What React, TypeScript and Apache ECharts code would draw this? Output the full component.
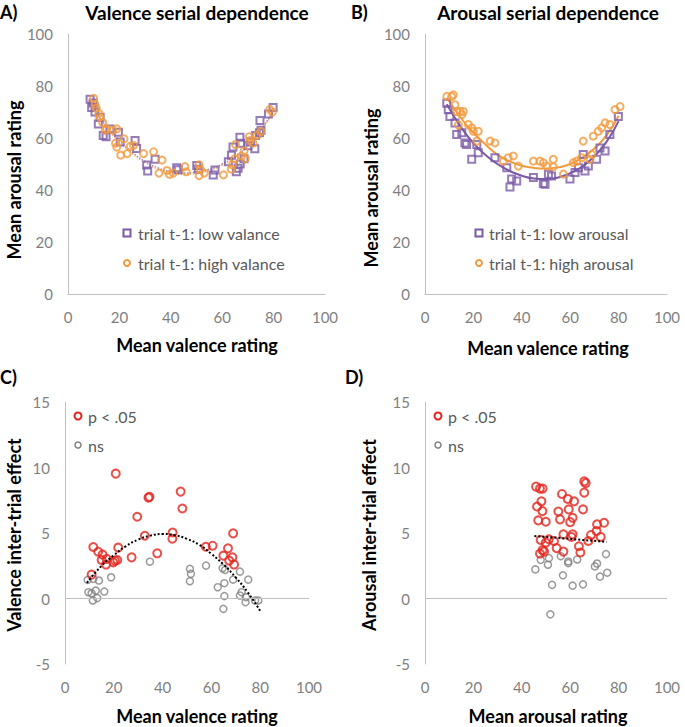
import React, { useEffect, useRef } from "react";
import * as echarts from "echarts";

// ---------- Panel A: Valence serial dependence ----------
const aLowX = [8.6, 9.2, 9.8, 10.5, 11.8, 12.5, 13.7, 14.8, 16.3, 19.6, 20.3, 26.1, 26.7, 30.6, 31, 33.9, 42.3, 42.9, 50.1, 50.7, 56.5, 57.2, 62.4, 63.6, 64.2, 65.5, 66.2, 67, 66.9, 67.2, 68.5, 70, 71, 72.7, 73, 74.5, 74.7, 75.1, 78, 79.8];
const aLowY = [74.9, 71.7, 73.5, 70, 65.4, 68, 61, 60.5, 63.5, 62.2, 58.5, 59, 56, 49.6, 47.3, 51.8, 48.6, 47.8, 49.4, 48, 45.8, 47.7, 50.9, 53.4, 56.5, 47, 48.4, 50, 60.3, 58, 52, 57, 58.5, 55.9, 61, 62, 66.7, 63, 69.2, 71.7];
const aHighX = [10, 10.5, 11, 12, 12.5, 13.5, 14.5, 15, 17.5, 19, 18.5, 19, 21.8, 20.5, 23, 24.2, 25.5, 29.4, 33.3, 36.6, 35.4, 38.5, 39.5, 41, 45.5, 46, 51, 51.5, 51, 53, 60.5, 63.5, 64, 64.8, 65.2, 67.5, 68.5, 69, 70.5, 70.8, 72, 73.5, 75, 78.5, 79.5];
const aHighY = [75.2, 73, 71.5, 69.5, 68, 66, 63, 63.5, 63, 63.5, 58, 56.5, 59.7, 53.4, 54, 56.8, 57.2, 54, 54.7, 51.5, 46.5, 47.5, 46, 46.5, 49, 47, 49.7, 48, 45.5, 46.5, 45.8, 48, 49.7, 52, 57.5, 53, 55, 52, 60.5, 59, 58, 61, 62.5, 71, 70];
const aFitX = [8, 15, 20, 25, 30, 35, 40, 45, 50, 55, 60, 65, 70, 75, 80];
const aLowFitY = [73.5, 64.5, 59, 54.5, 51, 48.5, 47, 46.5, 47, 48, 50, 53, 57, 63, 70.5];
const aHighFitY = [74.5, 64, 58.5, 54, 50.5, 48, 46.5, 46, 46.3, 47.5, 49.5, 52.5, 57, 62.5, 70.5];

// ---------- Panel B: Arousal serial dependence ----------
const bLowX = [9, 9.6, 10.3, 12.4, 13.1, 15.2, 16.5, 17.2, 19.3, 21.4, 22, 28.9, 33.8, 35.1, 35.8, 37.9, 44.8, 48.9, 49.6, 51, 52.3, 59.9, 62, 63.4, 66.1, 65.4, 67.5, 70.9, 72.3, 74.4, 76.4, 79.9];
const bLowY = [73.4, 70.9, 68.3, 65.8, 61.3, 62, 58.1, 57.5, 51.8, 57.5, 54.3, 52.4, 48.6, 41.2, 44.2, 43.5, 44.8, 42.5, 42.2, 46.1, 45.4, 44.2, 46.7, 48.6, 47.3, 53.7, 49.2, 51.8, 56.2, 55, 61.3, 68.3];
const bHighX = [9, 11, 11.7, 12.4, 13.1, 14.5, 15.2, 15.8, 13.8, 17.9, 19.3, 20, 22, 21.4, 26.9, 28.9, 32.4, 34.4, 36.5, 38.6, 44.8, 47.5, 48.9, 50.3, 53, 53, 57.2, 61.3, 62.7, 64.7, 65.4, 68.2, 68.9, 69.5, 71.6, 73, 74.4, 76.4, 78.5, 80.6];
const bHighY = [76, 76, 76.6, 72.8, 70.2, 70.2, 69, 70.2, 65, 65.2, 63.9, 62.6, 62.6, 58.8, 58.8, 58.1, 51.1, 52.4, 53.1, 49.2, 51.1, 51.1, 50.5, 49.2, 51.8, 48.9, 46.1, 50.5, 51.1, 52.4, 58.8, 51.8, 53.7, 60.7, 62.6, 63.9, 65.8, 65.2, 70.9, 72.1];
const bFitX = [9, 15, 20, 25, 30, 35, 40, 45, 50, 55, 60, 65, 70, 75, 80];
const bLowFitY = [73, 64, 58, 53.5, 50, 47.3, 45.5, 44.4, 44.2, 44.8, 46.5, 49, 53, 58.5, 66.5];
const bHighFitY = [75.5, 67.5, 62, 57.5, 53.5, 51, 49.3, 48.5, 48.3, 48.7, 50, 52.5, 56, 61, 68.5];

// ---------- Panel C: Valence inter-trial effect ----------
const cSigX = [20.8, 47.4, 34.6, 34.2, 48.1, 29.6, 68.9, 44.1, 32.7, 44, 11.6, 13.6, 15.4, 21.8, 15, 16.8, 17.1, 19.8, 20.5, 21.4, 27.3, 37.8, 10.9, 57.7, 60.5, 66.8, 64.9, 68.6, 67.3, 69.3];
const cSigY = [9.53, 8.16, 7.76, 7.7, 6.87, 6.24, 4.97, 5.04, 4.79, 4.56, 3.93, 3.57, 3.35, 3.88, 2.94, 2.59, 3.02, 2.76, 2.89, 2.94, 3.14, 3.45, 1.82, 3.95, 4.03, 3.83, 3.27, 3.14, 2.89, 2.59];
const cNsX = [9.3, 11.6, 13.9, 9.6, 10.9, 12.6, 16.1, 13.2, 11.4, 18.9, 34.8, 51.2, 51.6, 51.2, 57.8, 64.6, 65.6, 62.6, 65.3, 65.3, 64.9, 68.9, 71.7, 75.1, 72.4, 71.7, 74.2, 74, 77.9, 79.2];
const cNsY = [1.42, 1.5, 1.37, 0.48, 0.4, 0.61, 0.53, 0.03, -0.15, 1.62, 2.81, 2.26, 1.88, 1.32, 2.51, 2.31, 2.18, 0.86, 1.17, 0.18, -0.79, 1.44, 2.05, 1.44, 0.48, 0.23, 0.1, -0.28, -0.15, -0.15];
const cFitX = [9, 15, 20, 25, 30, 35, 40, 45, 50, 55, 60, 65, 70, 75, 80];
const cFitY = [1.2, 2.5, 3.3, 4.0, 4.5, 4.8, 4.92, 4.83, 4.55, 4.1, 3.4, 2.6, 1.6, 0.45, -0.95];

// ---------- Panel D: Arousal inter-trial effect ----------
const dSigX = [45.9, 47.5, 48.6, 65.8, 66.4, 65.8, 56.6, 59, 61.6, 48.1, 46.3, 48.5, 55.1, 59.4, 65.3, 46.8, 49.9, 55.8, 61, 60, 71.1, 74, 70.9, 57.2, 61, 60.5, 68.6, 72.6, 47.8, 51.2, 49.9, 53.3, 67.5, 54.4, 63.6, 48.6, 49.2, 57.2, 47.5, 64.2];
const dSigY = [8.54, 8.39, 8.39, 8.94, 8.81, 8.08, 7.98, 7.6, 7.42, 7.42, 7.02, 6.67, 6.64, 6.8, 6.8, 5.96, 5.86, 6.04, 6.16, 5.83, 5.66, 5.78, 5.15, 4.9, 4.9, 4.7, 4.85, 4.7, 4.47, 4.52, 4.27, 4.39, 4.39, 3.84, 3.99, 3.69, 3.58, 3.58, 3.43, 3.51];
const dNsX = [47.8, 51.2, 50.8, 56.1, 59.2, 59.2, 62.9, 70.2, 71.1, 74.8, 75.3, 72.3, 45.6, 57, 52.5, 61, 65.3, 51.8];
const dNsY = [2.95, 3.08, 2.58, 3.23, 2.83, 2.7, 2.98, 2.45, 2.67, 3.39, 1.97, 1.67, 2.22, 1.77, 1.04, 0.98, 1.08, -1.21];
const dFitX = [45.2, 50, 55, 60, 65, 70, 75];
const dFitY = [4.77, 4.7, 4.63, 4.55, 4.47, 4.4, 4.32];

const xTicks = { min: 0, max: 100, interval: 20 };
const ratingTicks = { min: 0, max: 100, interval: 20 };
const effectTicks = { min: -5, max: 15, interval: 5 };

const PURPLE = "#7a5aa6";
const ORANGE = "#f39a3d";
const RED = "#e3241d";
const GRAY = "#808080";
const AXIS = "#bfbfbf";
const LABEL = "#7f7f7f";
const FONT = 'Lato, "Noto Sans", sans-serif';

const zip = (xs: number[], ys: number[]) => xs.map((x, i) => [x, ys[i]]);

export default function App() {
  const ref = useRef<HTMLDivElement>(null);
  useEffect(() => {
    if (!ref.current) return;
    const chart = echarts.init(ref.current, null, { renderer: "svg" });

    const grids = [
      { left: 68, top: 34, width: 257, height: 260 },
      { left: 425, top: 34, width: 242, height: 260 },
      { left: 65, top: 402, width: 244, height: 262 },
      { left: 425, top: 402, width: 242, height: 262 },
    ];

    const mkX = (gi: number, showLine: boolean) => ({
      type: "value",
      gridIndex: gi,
      ...xTicks,
      axisLine: { show: showLine, onZero: false, lineStyle: { color: AXIS, width: 1 } },
      axisTick: { show: false },
      splitLine: { show: false },
      axisLabel: { color: LABEL, fontSize: 15, fontFamily: FONT, margin: 15 },
    });
    const mkY = (gi: number, ticks: any) => ({
      type: "value",
      gridIndex: gi,
      ...ticks,
      axisLine: { show: true, onZero: false, lineStyle: { color: AXIS, width: 1 } },
      axisTick: { show: false },
      splitLine: { show: false },
      axisLabel: { color: LABEL, fontSize: 15, fontFamily: FONT, margin: 15 },
    });

    const scatter = (name: string, gi: number, data: number[][], symbol: string, color: string, size: number, bw: number, extra: any = {}) => ({
      type: "scatter",
      name,
      xAxisIndex: gi,
      yAxisIndex: gi,
      data,
      symbol,
      symbolSize: size,
      itemStyle: { color: "rgba(255,255,255,0)", borderColor: color, borderWidth: bw },
      silent: true,
      z: 3,
      ...extra,
    });
    const fit = (gi: number, data: number[][], color: string, type: string, width: number, opacity = 1) => ({
      type: "line",
      xAxisIndex: gi,
      yAxisIndex: gi,
      data,
      smooth: true,
      symbol: "none",
      silent: true,
      lineStyle: { color, width, type, opacity },
      z: 2,
    });

    const zeroLine = {
      markLine: {
        silent: true,
        symbol: "none",
        label: { show: false },
        lineStyle: { color: AXIS, width: 1, type: "solid" },
        data: [{ yAxis: 0 }],
      },
    };

    const txt = (text: string, x: number, y: number, opts: any = {}) => ({
      type: "text",
      x,
      y,
      rotation: opts.rotation || 0,
      style: {
        text,
        fill: opts.fill || "#000",
        font: `${opts.bold ? "bold " : ""}${opts.size || 14}px ${FONT}`,
        textAlign: opts.align || "center",
        textVerticalAlign: "middle",
      },
    });

    const legRect = (x: number, y: number, color: string) => ({
      type: "rect",
      shape: { x: x - 3.5, y: y - 3.5, width: 7, height: 7 },
      style: { fill: "none", stroke: color, lineWidth: 2 },
    });
    const legCircle = (x: number, y: number, color: string, r: number, lw: number) => ({
      type: "circle",
      shape: { cx: x, cy: y, r },
      style: { fill: "none", stroke: color, lineWidth: lw },
    });

    const option: any = {
      animation: false,
      backgroundColor: "#fff",
      grid: grids,
      xAxis: [mkX(0, true), mkX(1, true), mkX(2, false), mkX(3, false)],
      yAxis: [mkY(0, ratingTicks), mkY(1, ratingTicks), mkY(2, effectTicks), mkY(3, effectTicks)],
      series: [
        fit(0, zip(aFitX, aLowFitY), PURPLE, "dotted", 1.5, 0.7),
        fit(0, zip(aFitX, aHighFitY), ORANGE, "dotted", 1.5, 0.7),
        scatter("trial t-1: low valance", 0, zip(aLowX, aLowY), "rect", PURPLE, 7, 2),
        scatter("trial t-1: high valance", 0, zip(aHighX, aHighY), "circle", ORANGE, 7, 2),
        fit(1, zip(bFitX, bLowFitY), PURPLE, "solid", 2),
        fit(1, zip(bFitX, bHighFitY), ORANGE, "solid", 2),
        scatter("trial t-1: low arousal", 1, zip(bLowX, bLowY), "rect", PURPLE, 7, 2),
        scatter("trial t-1: high arousal", 1, zip(bHighX, bHighY), "circle", ORANGE, 7, 2),
        scatter("ns", 2, zip(cNsX, cNsY), "circle", GRAY, 7, 1.5, zeroLine),
        scatter("p < .05", 2, zip(cSigX, cSigY), "circle", RED, 8, 2),
        { ...fit(2, zip(cFitX, cFitY), "#000", "dotted", 2), z: 4 },
        scatter("ns", 3, zip(dNsX, dNsY), "circle", GRAY, 7, 1.5, zeroLine),
        scatter("p < .05", 3, zip(dSigX, dSigY), "circle", RED, 8, 2),
        { ...fit(3, zip(dFitX, dFitY), "#000", "dotted", 2), z: 4, smooth: false },
      ],
      graphic: [
        txt("A)", 0, 12, { bold: true, size: 18, align: "left" }),
        txt("Valence serial dependence", 197, 12, { bold: true, size: 19 }),
        txt("B)", 351, 12, { bold: true, size: 18, align: "left" }),
        txt("Arousal serial dependence", 548, 12, { bold: true, size: 19 }),
        txt("C)", 0, 377, { bold: true, size: 18, align: "left" }),
        txt("D)", 345, 377, { bold: true, size: 18, align: "left" }),

        txt("Mean valence rating", 197, 345, { bold: true, size: 18 }),
        txt("Mean valence rating", 548, 348, { bold: true, size: 18 }),
        txt("Mean valence rating", 197, 716, { bold: true, size: 18 }),
        txt("Mean arousal rating", 548, 716, { bold: true, size: 18 }),
        txt("Mean arousal rating", 14, 180, { bold: true, size: 18, rotation: Math.PI / 2 }),
        txt("Mean arousal rating", 371, 188, { bold: true, size: 18, rotation: Math.PI / 2 }),
        txt("Valence inter-trial effect", 14, 535, { bold: true, size: 18, rotation: Math.PI / 2 }),
        txt("Arousal inter-trial effect", 369, 535, { bold: true, size: 18, rotation: Math.PI / 2 }),

        legRect(127, 233, PURPLE),
        txt("trial t-1: low valance", 138, 233, { size: 16, align: "left", fill: "#595959" }),
        legCircle(127, 263, ORANGE, 3, 2),
        txt("trial t-1: high valance", 138, 263, { size: 16, align: "left", fill: "#595959" }),

        legRect(479, 233, PURPLE),
        txt("trial t-1: low arousal", 489, 233, { size: 16, align: "left", fill: "#595959" }),
        legCircle(479, 263, ORANGE, 3, 2),
        txt("trial t-1: high arousal", 489, 263, { size: 16, align: "left", fill: "#595959" }),

        legCircle(78, 416, RED, 3.5, 2),
        txt("p < .05", 88, 416, { size: 16, align: "left", fill: "#595959" }),
        legCircle(78, 445, GRAY, 3, 1.5),
        txt("ns", 88, 445, { size: 16, align: "left", fill: "#595959" }),

        legCircle(438, 416, RED, 3.5, 2),
        txt("p < .05", 448, 416, { size: 16, align: "left", fill: "#595959" }),
        legCircle(438, 445, GRAY, 3, 1.5),
        txt("ns", 448, 445, { size: 16, align: "left", fill: "#595959" }),
      ],
    };

    chart.setOption(option);
    return () => chart.dispose();
  }, []);

  return (
    <div
      ref={ref}
      style={{ position: "absolute", left: 0, top: 0, width: 685, height: 727, background: "#fff" }}
    />
  );
}
